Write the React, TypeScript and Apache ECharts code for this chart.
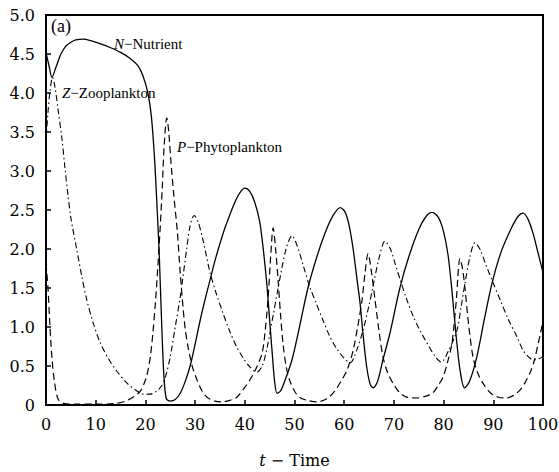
import React, { useEffect, useRef } from "react";
import * as echarts from "echarts";

// t (time) and value pairs
const nutrient: [number, number][] = [
  [0, 4.52], [0.6, 4.35], [1.2, 4.2], [2, 4.33], [3, 4.5], [4, 4.6], [5, 4.65], [6, 4.68], [7.5, 4.69],
  [9, 4.67], [11, 4.63], [13, 4.58], [15, 4.52], [17, 4.44], [18.5, 4.35], [19.5, 4.22], [20.5, 4.0],
  [21.2, 3.7], [21.8, 3.2], [22.3, 2.6], [22.8, 1.9], [23.3, 1.0], [23.7, 0.4], [24.2, 0.08], [25, 0.05],
  [26, 0.07], [27, 0.15], [28, 0.3], [29, 0.5], [30, 0.78], [31, 1.08], [32, 1.35], [33, 1.6], [34, 1.85],
  [35, 2.07], [36, 2.27], [37, 2.44], [38, 2.6], [39, 2.72], [40, 2.78], [41, 2.74], [42, 2.6], [43, 2.35],
  [43.8, 1.95], [44.5, 1.5], [45.1, 1.0], [45.6, 0.6], [46, 0.3], [46.5, 0.15], [47.2, 0.18], [48, 0.3],
  [49.5, 0.58], [51, 1.0], [52.7, 1.5], [54.5, 1.9], [56, 2.18], [57.5, 2.4], [59.2, 2.53], [60.2, 2.47],
  [61, 2.3], [61.8, 2.0], [62.6, 1.6], [63.2, 1.3], [63.8, 0.9], [64.5, 0.5], [65.2, 0.27], [65.8, 0.22],
  [66.7, 0.3], [67.8, 0.58], [69.2, 0.92], [71.2, 1.5], [73, 1.9], [75, 2.25], [76.5, 2.42], [77.7, 2.47],
  [79, 2.4], [80, 2.22], [80.9, 1.92], [81.7, 1.45], [82.5, 0.9], [83.3, 0.45], [84.2, 0.22], [85.2, 0.3],
  [86.7, 0.62], [88.2, 1.1], [89.7, 1.55], [91.5, 1.95], [93.5, 2.25], [95, 2.42], [96, 2.46], [97, 2.38],
  [98, 2.2], [99, 1.95], [100, 1.7],
];

const phytoplankton: [number, number][] = [
  [0, 1.82], [0.4, 1.5], [0.8, 1.0], [1.2, 0.6], [1.7, 0.3], [2.4, 0.08], [3.5, 0.02], [6, 0.01], [10, 0.01],
  [14, 0.02], [16, 0.05], [17.5, 0.1], [18.9, 0.17], [19.7, 0.27], [20.3, 0.38], [21, 0.62], [21.5, 0.92],
  [22, 1.3], [22.5, 1.77], [23, 2.3], [23.4, 2.8], [23.8, 3.35], [24.3, 3.68], [24.7, 3.5], [25.1, 3.15],
  [25.7, 2.7], [26.4, 2.24], [27, 1.7], [27.4, 1.38], [28, 0.98], [28.6, 0.74], [29.5, 0.48], [30.4, 0.32],
  [31.4, 0.18], [32.4, 0.1], [34, 0.05], [35.5, 0.04], [37, 0.06], [38.4, 0.1], [39.7, 0.2], [41, 0.32],
  [42.3, 0.47], [43.5, 0.67], [44.1, 0.95], [44.7, 1.38], [45.2, 1.9], [45.7, 2.27], [46.2, 2.0], [46.7, 1.6],
  [47.2, 1.15], [47.7, 0.78], [48.3, 0.5], [49, 0.32], [50, 0.18], [51, 0.1], [52.5, 0.06], [54.5, 0.04],
  [56.5, 0.08], [58, 0.17], [59.5, 0.32], [60.6, 0.45], [61.8, 0.7], [62.7, 1.0], [63.6, 1.35], [64.2, 1.7],
  [64.8, 1.94], [65.5, 1.7], [66.2, 1.35], [67, 0.95], [67.8, 0.62], [68.7, 0.42], [69.8, 0.28], [71, 0.17],
  [72.6, 0.1], [74.6, 0.09], [76.3, 0.11], [77.9, 0.16], [79, 0.26], [79.9, 0.36], [80.8, 0.55], [81.7, 0.8],
  [82.5, 1.3], [83.3, 1.88], [83.8, 1.75], [84.3, 1.5], [85, 1.05], [85.9, 0.62], [86.8, 0.42], [87.9, 0.28],
  [89.5, 0.15], [91, 0.1], [92.5, 0.09], [94, 0.12], [95.5, 0.2], [96.5, 0.3], [97.5, 0.43], [98.3, 0.58],
  [99, 0.78], [99.5, 0.92], [100, 1.08],
];

const zooplankton: [number, number][] = [
  [0, 3.4], [0.4, 3.75], [0.8, 4.02], [1.3, 4.2], [1.8, 4.08], [2.4, 3.8], [3.2, 3.42], [3.8, 3.05],
  [4.4, 2.7], [5, 2.4], [6.2, 1.99], [7.2, 1.65], [8.2, 1.35], [9.5, 1.05], [10.9, 0.8], [12.5, 0.6],
  [14.3, 0.43], [16.3, 0.28], [18.3, 0.18], [19.5, 0.14], [21, 0.14], [22.3, 0.18], [23.3, 0.25], [24, 0.35],
  [25, 0.62], [26, 1.0], [27, 1.38], [28.3, 2.0], [29, 2.3], [29.8, 2.43], [30.6, 2.35], [31.6, 2.11],
  [33, 1.7], [34.3, 1.42], [35.6, 1.18], [37, 0.94], [38.4, 0.74], [39.7, 0.6], [41, 0.49], [42.4, 0.42],
  [43.5, 0.5], [44.5, 0.74], [45.7, 1.15], [47, 1.6], [48.3, 2.0], [49.5, 2.17], [50.6, 2.03], [51.8, 1.78],
  [53.1, 1.51], [54.4, 1.3], [55.7, 1.09], [57.1, 0.88], [58.5, 0.72], [60, 0.6], [61.2, 0.54], [62.5, 0.7],
  [63.8, 0.96], [65, 1.28], [65.8, 1.52], [67, 1.88], [68.2, 2.1], [69.3, 2.0], [70.3, 1.8], [71.2, 1.62],
  [72.6, 1.35], [74, 1.12], [75.3, 0.95], [76.7, 0.79], [78.2, 0.63], [79.5, 0.55], [81, 0.7], [82.7, 0.96],
  [83.5, 1.25], [84.3, 1.56], [85.3, 1.9], [86.3, 2.08], [87.3, 2.0], [88.5, 1.8], [90, 1.56], [91.5, 1.33],
  [93, 1.1], [94.8, 0.87], [96, 0.7], [97.4, 0.6], [98.5, 0.58], [100, 0.62],
];

const xTicks = { min: 0, max: 100, interval: 10 };
const yTicks = { min: 0, max: 5, interval: 0.5 };

const axisFont = "DejaVu Serif";
const labelFont = "Liberation Serif";

export default function App() {
  const ref = useRef<HTMLDivElement>(null);
  useEffect(() => {
    if (!ref.current) return;
    const chart = echarts.init(ref.current, undefined, { renderer: "svg" });
    const lineBase = { type: "line", showSymbol: false, smooth: 0.3, silent: true };
    const italic = { fontStyle: "italic", fontFamily: labelFont, fontSize: 15 };
    chart.setOption({
      animation: false,
      backgroundColor: "#fff",
      grid: {
        left: 46, right: 16, top: 15, bottom: 67, show: true, borderColor: "#000", borderWidth: 2,
        containLabel: false, outerBoundsMode: "none",
      },
      xAxis: {
        type: "value",
        ...xTicks,
        name: "{i|t} − Time",
        nameLocation: "middle",
        nameGap: 47,
        nameTextStyle: {
          fontFamily: axisFont, fontSize: 16, color: "#000", verticalAlign: "top",
          rich: { i: { fontFamily: axisFont, fontSize: 16, fontStyle: "italic", color: "#000" } },
        },
        axisLine: { lineStyle: { color: "#000", width: 2 } },
        axisTick: { inside: true, length: 5, lineStyle: { color: "#000", width: 1.5 } },
        axisLabel: { fontFamily: axisFont, fontSize: 16, color: "#000", margin: 11 },
        splitLine: { show: false },
      },
      yAxis: {
        type: "value",
        ...yTicks,
        axisLine: { show: true, lineStyle: { color: "#000", width: 2 } },
        axisTick: { show: true, inside: true, length: 5, lineStyle: { color: "#000", width: 1.5 } },
        axisLabel: {
          fontFamily: axisFont, fontSize: 16, color: "#000", margin: 11,
          formatter: (v: number) => (v === 0 ? "0" : v.toFixed(1)),
        },
        splitLine: { show: false },
      },
      graphic: [
        { type: "text", left: 51, top: 17, style: { text: "(a)", font: `18px "${labelFont}"`, fill: "#000" } },
        {
          type: "text", left: 114, top: 36,
          style: { text: "{i|N}−Nutrient", font: `15px "${labelFont}"`, fill: "#000", rich: { i: italic } },
        },
        {
          type: "text", left: 62, top: 85,
          style: { text: "{i|Z}−Zooplankton", font: `15px "${labelFont}"`, fill: "#000", rich: { i: italic } },
        },
        {
          type: "text", left: 177, top: 139,
          style: { text: "{i|P}−Phytoplankton", font: `15px "${labelFont}"`, fill: "#000", rich: { i: italic } },
        },
      ],
      series: [
        { ...lineBase, name: "N-Nutrient", data: nutrient, lineStyle: { color: "#000", width: 1.3, type: "solid" } },
        { ...lineBase, name: "P-Phytoplankton", data: phytoplankton, lineStyle: { color: "#000", width: 1.2, type: [7, 4] } },
        { ...lineBase, name: "Z-Zooplankton", data: zooplankton, lineStyle: { color: "#000", width: 1.1, type: [6, 3, 1.5, 3] } },
      ],
    });
    return () => chart.dispose();
  }, []);
  return <div ref={ref} style={{ position: "absolute", left: 0, top: 0, width: 559, height: 472 }} />;
}
